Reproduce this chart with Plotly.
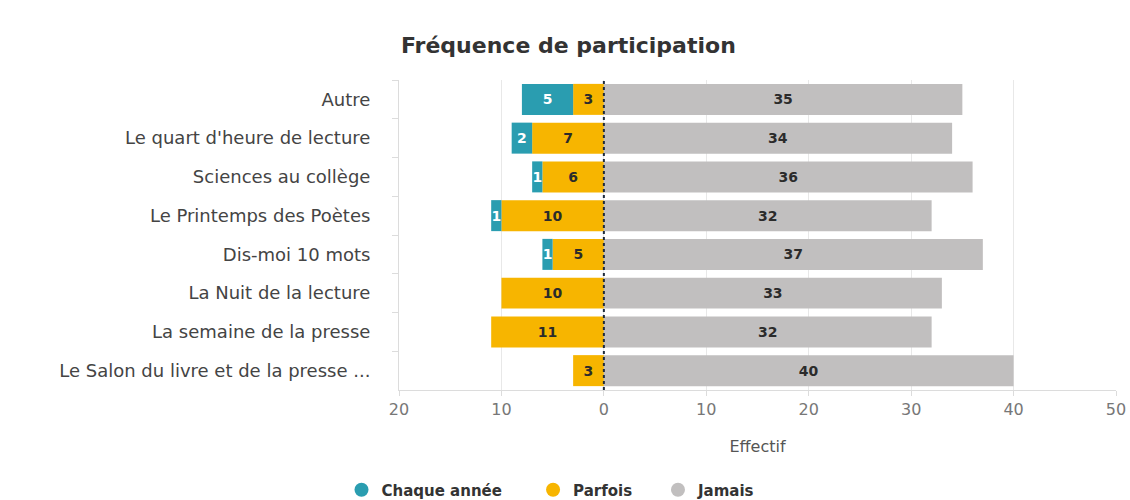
import plotly.graph_objects as go

categories = ["Autre", "Le quart d'heure de lecture", "Sciences au collège",
              "Le Printemps des Poètes", "Dis-moi 10 mots", "La Nuit de la lecture",
              "La semaine de la presse", "Le Salon du livre et de la presse ..."]
chaque_annee = [5, 2, 1, 1, 1, 0, 0, 0]
parfois = [3, 7, 6, 10, 5, 10, 11, 3]
jamais = [35, 34, 36, 32, 37, 33, 32, 40]

tick_vals = [-20, -10, 0, 10, 20, 30, 40, 50]
tick_text = ["20", "10", "0", "10", "20", "30", "40", "50"]

C_TEAL = "#2a9db0"
C_ORANGE = "#f7b500"
C_GRAY = "#c1bfbf"
FONT = "DejaVu Sans, Verdana, sans-serif"
NB = "\u00a0" * 5
NB2 = "\u00a0" * 4

def lbl(vals):
    return [str(v) if v else "" for v in vals]

fig = go.Figure()
fig.add_trace(go.Bar(y=categories, x=[-v for v in parfois], orientation="h",
                     marker=dict(color=C_ORANGE, line=dict(width=0)),
                     text=lbl(parfois), textposition="inside", insidetextanchor="middle",
                     textfont=dict(color="#2b2b2b", size=14, family=FONT, weight="bold"),
                     name="Parfois", showlegend=False, hoverinfo="skip"))
fig.add_trace(go.Bar(y=categories, x=[-v for v in chaque_annee], orientation="h",
                     marker=dict(color=C_TEAL, line=dict(width=0)),
                     text=lbl(chaque_annee), textposition="inside", insidetextanchor="middle",
                     textfont=dict(color="white", size=14, family=FONT, weight="bold"),
                     name="Chaque année", showlegend=False, hoverinfo="skip"))
fig.add_trace(go.Bar(y=categories, x=jamais, orientation="h",
                     marker=dict(color=C_GRAY, line=dict(width=0)),
                     text=lbl(jamais), textposition="inside", insidetextanchor="middle",
                     textfont=dict(color="#2b2b2b", size=14, family=FONT, weight="bold"),
                     name="Jamais", showlegend=False, hoverinfo="skip"))

for name, col in [("Chaque année" + NB, C_TEAL), ("Parfois" + NB2, C_ORANGE), ("Jamais", C_GRAY)]:
    fig.add_trace(go.Scatter(x=[None], y=[None], mode="markers", name=name,
                             marker=dict(symbol="circle", size=14, color=col)))

fig.add_shape(type="line", x0=0, x1=0, y0=0, y1=1, xref="x", yref="paper",
              line=dict(color="#1e2a3a", width=2, dash="dot"), layer="above")

fig.update_layout(
    width=1130, height=500,
    margin=dict(l=399, r=14, t=80, b=110, autoexpand=False),
    paper_bgcolor="white", plot_bgcolor="white",
    barmode="relative", bargap=0.2,
    font=dict(family=FONT, color="#444"),
    title=dict(text="<b>Fréquence de participation</b>", x=0.503, xanchor="center",
               y=0.91, yanchor="middle", font=dict(size=22, color="#333", family=FONT)),
    uniformtext=dict(minsize=14, mode="show"),
    legend=dict(orientation="h", x=0.212, xanchor="center", y=-0.3226, yanchor="middle",
                font=dict(size=15, color="#333", family=FONT, weight="bold"),
                itemwidth=30, traceorder="normal"),
    showlegend=True,
)
fig.update_xaxes(range=[-20, 50], tickvals=tick_vals, ticktext=tick_text,
                 showgrid=True, gridcolor="#e8e8e8", gridwidth=1, zeroline=False,
                 showline=True, linecolor="#dcdcdc", ticks="outside", ticklen=5,
                 tickcolor="#dcdcdc", tickfont=dict(size=16, color="#777"),
                 title=dict(text="Effectif", font=dict(size=16, color="#555"), standoff=22))
fig.update_yaxes(autorange="reversed", showline=True, linecolor="#dcdcdc",
                 ticks="outside", tickson="boundaries", ticklen=6, tickcolor="#dcdcdc",
                 tickfont=dict(size=18, color="#444"), ticklabelstandoff=24,
                 showgrid=False)

fig.write_html("out.html", config={"displayModeBar": False},
               post_script="document.body.style.margin='0';document.body.style.overflow='hidden';")
